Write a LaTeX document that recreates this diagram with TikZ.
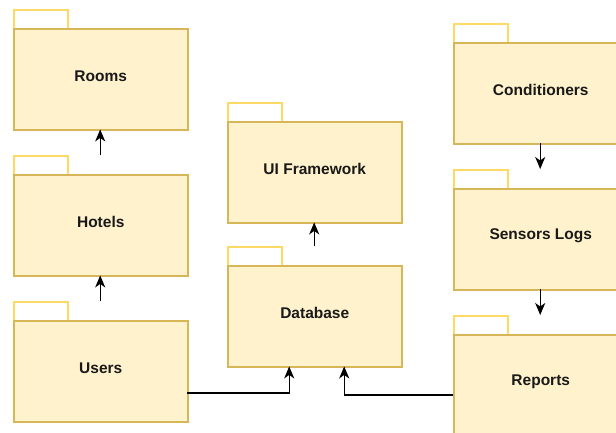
\documentclass[tikz,border=0pt]{standalone}
\usepackage{fontspec}
\setmainfont{Liberation Sans}
\usetikzlibrary{arrows.meta,calc}
\definecolor{pkgfill}{HTML}{FFF2CC}
\definecolor{pkgline}{HTML}{D6B656}
\definecolor{tabline}{HTML}{FFD966}
\tikzset{
  pkgbox/.style={draw=pkgline, fill=pkgfill, line width=1.5pt, minimum width=174pt, minimum height=101pt, inner sep=0pt, anchor=north west},
  pkgtab/.style={draw=tabline, fill=white, line width=1.5pt, minimum width=54pt, minimum height=20pt, inner sep=0pt, anchor=north west},
  pkgall/.style={minimum width=174pt, minimum height=120pt, inner sep=0pt, anchor=north west},
  pkglabel/.style={font=\fontsize{15.5}{18}\selectfont\bfseries, text=black!90},
  arr/.style={draw=black, line width=1.4pt, -{Stealth[length=12pt,width=10pt,inset=3.5pt]}}
}
\newcommand\pkgdraw[4]{% name, left, tabtop, label
  \node[pkgtab] (#1tab) at (#2,#3) {};
  \node[pkgbox] (#1body) at (#2,#3+19) {};
  \node[pkgall] (#1) at (#2,#3) {};
  \node[pkglabel] (#1label) at ($(#1body.center)+(0,-3.5)$) {#4};
}
\begin{document}
\begin{tikzpicture}[x=1pt,y=-1pt]
\useasboundingbox (0,0) rectangle (616,432);
\clip (0,0) rectangle (616,432);
\fill[white] (0,0) rectangle (616,432);
\pkgdraw{rooms}{13}{9}{Rooms}
\pkgdraw{hotels}{13}{155}{Hotels}
\pkgdraw{users}{13}{301}{Users}
\pkgdraw{ui}{227}{102}{UI Framework}
\pkgdraw{db}{227}{246}{Database}
\pkgdraw{cond}{453}{23}{Conditioners}
\pkgdraw{sensors}{453}{169}{Sensors Logs}
\pkgdraw{reports}{453}{315}{Reports}
\draw[arr] (hotels.north) -- (rooms.south);
\draw[arr] (users.north) -- (hotels.south);
\draw[arr] (db.north) -- (ui.south);
\draw[arr] (cond.south) -- (sensors.north);
\draw[arr] (sensors.south) -- (reports.north);
\draw[arr] (users.east |- 0,393) -| ([xshift=-25pt]db.south);
\draw[arr] (reports.west |- 0,395) -| ([xshift=30pt]db.south);
\end{tikzpicture}
\end{document}
